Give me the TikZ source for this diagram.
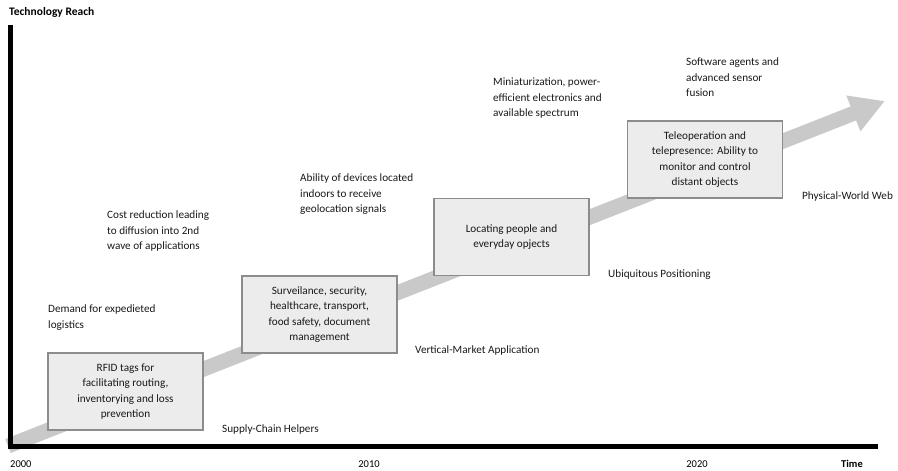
\documentclass[tikz,border=0pt]{standalone}
\usepackage{fontspec}
\setmainfont{Carlito}
\usetikzlibrary{arrows.meta}
\definecolor{trend}{HTML}{C9C9C9}
\definecolor{boxfill}{HTML}{ECECEC}
\definecolor{boxline}{HTML}{8C8C8C}
\tikzset{
  note/.style={font=\fontsize{11.2}{15.5}\selectfont, align=left, inner sep=0pt, anchor=north west, text=black!90},
  stage/.style={draw=boxline, line width=1.2pt, fill=boxfill, minimum width=155pt, minimum height=77pt,
    align=center, inner sep=2pt, font=\fontsize{11.2}{15.5}\selectfont, text=black!90},
  tick/.style={font=\fontsize{10.5}{12}\selectfont, inner sep=0pt},
  axis/.style={line width=5pt, black}
}
\begin{document}
\begin{tikzpicture}[x=1pt, y=-1pt]
\useasboundingbox (0,0) rectangle (898,471);

% rising trend arrow
\coordinate (trendstart) at (8,446);
\coordinate (trendtip) at (885,101);
\draw[trend, line width=15pt, -{Triangle[width=36pt,length=34pt]}] (trendstart) -- (trendtip);

% stages along the trend
\node[stage] (rfid) at (125.5,391.5) {RFID tags for\\facilitating routing,\\inventorying and loss\\prevention};
\node[stage] (vert) at (319.5,314.5) {Surveilance, security,\\healthcare, transport,\\food safety, document\\management};
\node[stage] (locate) at (511.5,237) {Locating people and\\everyday opjects};
\node[stage] (tele) at (705,159.5) {Teleoperation and\\telepresence: Ability to\\monitor and control\\distant objects};

% drivers and phase names
\node[note] (demand) at (48,305) {Demand for expedieted\\logistics};
\node[note] (cost) at (107,211) {Cost reduction leading\\to diffusion into 2nd\\wave of applications};
\node[note] (supply) at (222,425) {Supply-Chain Helpers};
\node[note] (indoor) at (300,174) {Ability of devices located\\indoors to receive\\geolocation signals};
\node[note] (market) at (415,346) {Vertical-Market Application};
\node[note] (mini) at (493,78) {Miniaturization, power-\\efficient electronics and\\available spectrum};
\node[note] (ubiq) at (608,270) {Ubiquitous Positioning};
\node[note] (agents) at (686,58) {Software agents and\\advanced sensor\\fusion};
\node[note] (web) at (802,192) {Physical-World Web};

% axes
\coordinate (origin) at (10,446);
\coordinate (ytop) at (10,25);
\coordinate (xend) at (878,446);
\draw[axis] (ytop) -- (10,448.5);
\draw[axis] (7.5,446) -- (xend);

\node[tick, font=\fontsize{11.5}{12}\selectfont\bfseries, anchor=west] (ylabel) at (9,12) {Technology Reach};
\node[tick, anchor=west] (y2000) at (10,464) {2000};
\node[tick] (y2010) at (369,464) {2010};
\node[tick] (y2020) at (697,464) {2020};
\node[tick, font=\fontsize{10.5}{12}\selectfont\bfseries] (time) at (852,464) {Time};
\end{tikzpicture}
\end{document}
